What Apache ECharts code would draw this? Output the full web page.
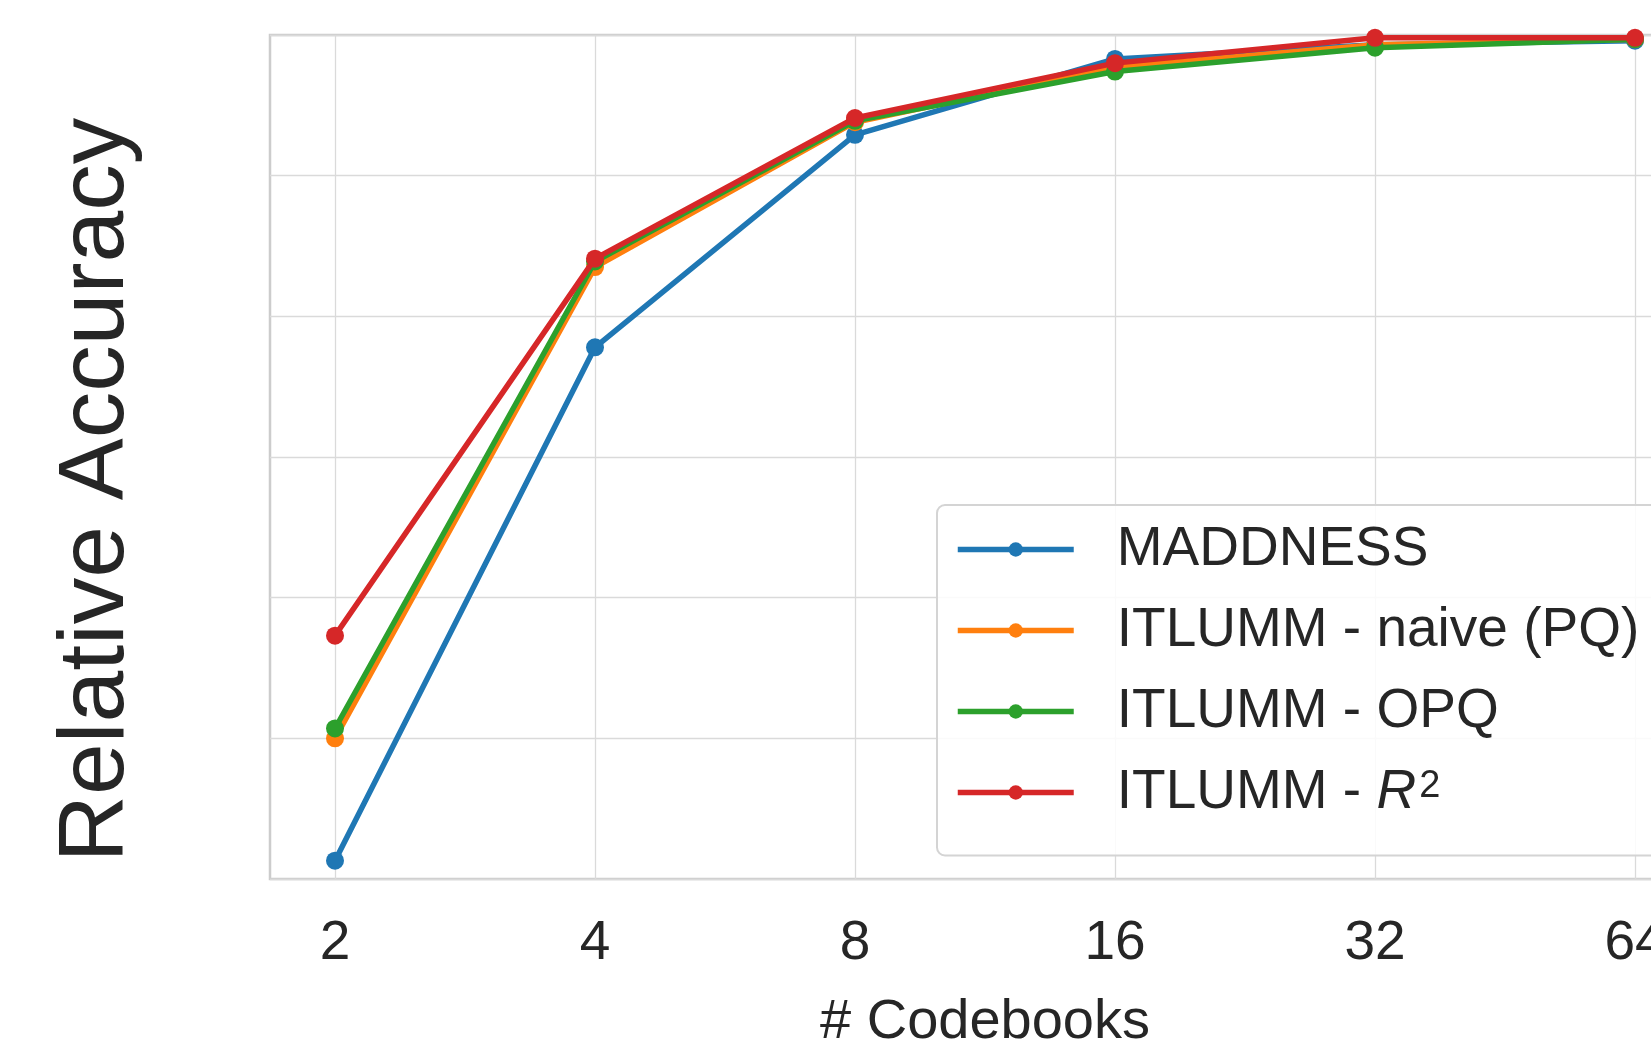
<!DOCTYPE html>
<html>
<head>
<meta charset="utf-8">
<script src="https://cdn.jsdelivr.net/npm/echarts@6/dist/echarts.min.js"></script>
<style>
html,body{margin:0;padding:0;background:#fff;overflow:hidden;}
#chart{width:1651px;height:1048px;}
</style>
</head>
<body>
<div id="chart"></div>
<script>
const categories = ['2', '4', '8', '16', '32', '64'];
const seriesNames = ['MADDNESS', 'ITLUMM - naive (PQ)', 'ITLUMM - OPQ', 'ITLUMM - R2'];
const maddness = [0.413, 0.778, 0.929, 0.983, 0.993, 0.996];
const naivePQ  = [0.500, 0.835, 0.938, 0.977, 0.993, 0.997];
const opq      = [0.507, 0.839, 0.939, 0.974, 0.991, 0.997];
const r2       = [0.573, 0.841, 0.941, 0.980, 0.998, 0.998];
const colors = ['#1f77b4', '#ff7f0e', '#2ca02c', '#d62728'];

const allValues = [maddness, naivePQ, opq, r2];
const font = 'Liberation Sans, Arial, sans-serif';

const chart = echarts.init(document.getElementById('chart'), null, {renderer: 'canvas'});
const series = seriesNames.map((name, k) => ({
  name: name,
  type: 'line',
  data: allValues[k].map((v, i) => [i, v]),
  symbol: 'circle',
  symbolSize: 18,
  showSymbol: true,
  lineStyle: {width: 5.5, color: colors[k]},
  itemStyle: {color: colors[k]},
  emphasis: {disabled: true},
  z: 2 + k,
  animation: false
}));

chart.setOption({
  animation: false,
  graphic: [{
    type: 'text',
    x: 97, y: 490,
    rotation: Math.PI / 2,
    style: {
      text: 'Relative Accuracy',
      fontSize: 93, fill: '#262626', fontFamily: font,
      align: 'center', verticalAlign: 'middle'
    }
  }],
  grid: {
    left: 270, top: 35, height: 844, width: 1430,
    outerBoundsMode: 'none',
    containLabel: false,
    show: true, borderColor: '#cccccc', borderWidth: 2.5, backgroundColor: '#fff'
  },
  xAxis: {
    type: 'value',
    min: -0.25, max: 5.25,
    name: '# Codebooks',
    nameLocation: 'middle',
    nameGap: 116,
    nameTextStyle: {fontSize: 56, color: '#262626', fontFamily: font},
    axisLine: {show: false},
    axisTick: {show: false, customValues: [0, 1, 2, 3, 4, 5]},
    axisLabel: {
      customValues: [0, 1, 2, 3, 4, 5],
      formatter: v => categories[Math.round(v)],
      fontSize: 55, color: '#262626', fontFamily: font, margin: 37
    },
    splitLine: {show: true, lineStyle: {color: '#dadada', width: 1.3}}
  },
  yAxis: {
    type: 'value',
    min: 0.4, max: 1.0, interval: 0.1,
    axisLine: {show: false},
    axisTick: {show: false},
    axisLabel: {show: false},
    splitLine: {show: true, lineStyle: {color: '#dadada', width: 1.3}}
  },
  legend: {
    data: seriesNames,
    orient: 'vertical',
    left: 937, top: 505,
    padding: [17, 40, 22, 18],
    itemWidth: 116,
    itemHeight: 18,
    itemGap: 26,
    backgroundColor: 'rgba(255,255,255,0.85)',
    borderColor: '#d4d4d4',
    borderWidth: 2,
    borderRadius: 8,
    selectedMode: false,
    lineStyle: {width: 5.5},
    formatter: name => name === 'ITLUMM - R2' ? 'ITLUMM - {i|R}{s|2}' : name,
    textStyle: {
      fontSize: 55, color: '#262626', fontFamily: font, lineHeight: 50, padding: [0, 0, 0, 38],
      rich: {
        i: {fontSize: 55, fontStyle: 'italic', color: '#262626', fontFamily: font, lineHeight: 50},
        s: {fontSize: 38, color: '#262626', fontFamily: font, verticalAlign: 'top', lineHeight: 50, padding: [0, 0, 28, 3]}
      }
    }
  },
  series: series
});
</script>
</body>
</html>
